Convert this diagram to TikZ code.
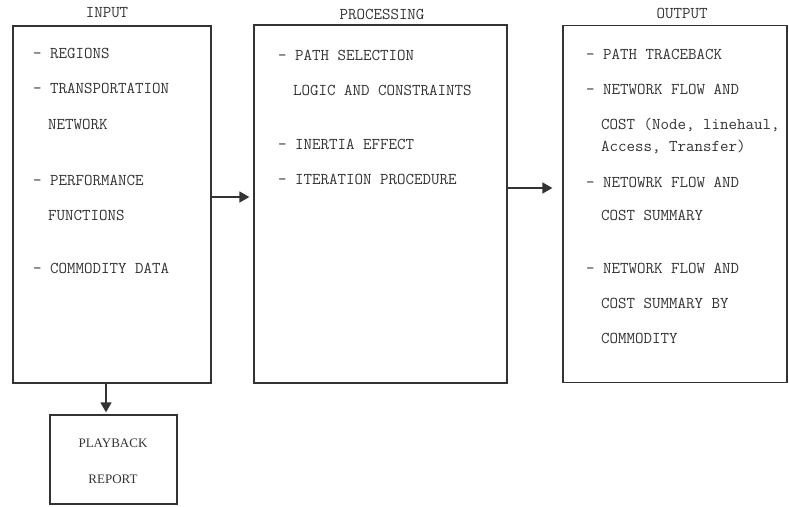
\documentclass[tikz,border=0pt]{standalone}
\usepackage{fontspec}
\setmainfont{Liberation Serif}
\usetikzlibrary{calc,arrows.meta}
\begin{document}
\begin{tikzpicture}[x=1pt,y=-1pt,
  panel/.style={draw=black!80,line width=1.3pt,inner sep=0pt},
  head/.style={font=\ttfamily\fontsize{16.5}{18}\selectfont,text=black!80,inner sep=0pt},
  item/.style={font=\ttfamily\fontsize{16.5}{18}\selectfont,text=black!80,anchor=west,inner sep=0pt},
  serif/.style={font=\fontsize{13}{14}\selectfont,text=black!80,inner sep=0pt},
  flow/.style={draw=black!80,line width=1.6pt,-{Triangle[length=10pt,width=11pt]}}]
\useasboundingbox (0,0) rectangle (789,506);

% the three main panels and the report box
\node[panel,minimum width=198pt,minimum height=357pt] (input) at (112,204.5) {};
\node[panel,minimum width=253pt,minimum height=358pt] (proc) at (380.5,204) {};
\node[panel,minimum width=224pt,minimum height=357pt] (out) at (675,204) {};
\node[panel,minimum width=127pt,minimum height=89pt] (play) at (113.5,459.5) {};

% headings
\node[head] (hin) at (107,13) {INPUT};
\node[head] (hproc) at (382,14) {PROCESSING};
\node[head] (hout) at (682,13) {OUTPUT};

% input items
\node[item] (i1) at (33,53) {- REGIONS};
\node[item] (i2) at (33,88) {- TRANSPORTATION};
\node[item] (i3) at (48,124) {NETWORK};
\node[item] (i4) at (33,180) {- PERFORMANCE};
\node[item] (i5) at (48,215) {FUNCTIONS};
\node[item] (i6) at (33,268) {- COMMODITY DATA};

% processing items
\node[item] (p1) at (278,55) {- PATH SELECTION};
\node[item] (p2) at (293,90) {LOGIC AND CONSTRAINTS};
\node[item] (p3) at (278,144) {- INERTIA EFFECT};
\node[item] (p4) at (278,179) {- ITERATION PROCEDURE};

% output items
\node[item] (o1) at (586,54) {- PATH TRACEBACK};
\node[item] (o2) at (586,89) {- NETWORK FLOW AND};
\node[item] (o3) at (601,125) {COST (Node, linehaul,};
\node[item] (o4) at (601,147) {Access, Transfer)};
\node[item] (o5) at (586,182) {- NETOWRK FLOW AND};
\node[item] (o6) at (601,215) {COST SUMMARY};
\node[item] (o7) at (586,268) {- NETWORK FLOW AND};
\node[item] (o8) at (601,303) {COST SUMMARY BY};
\node[item] (o9) at (601,338) {COMMODITY};

% report text
\node[serif] (r1) at (113,443) {PLAYBACK};
\node[serif] (r2) at (113,479) {REPORT};

% connectors
\draw[flow] ($(input.east)+(0,-7.5)$) -- ($(proc.west)+(-4,-7)$);
\draw[flow] ($(proc.east)+(0,-16)$) -- ($(out.west)+(-10,-16)$);
\draw[flow] ($(input.south)+(-6,0)$) -- ($(play.north)+(-7.5,-2)$);
\end{tikzpicture}
\end{document}
